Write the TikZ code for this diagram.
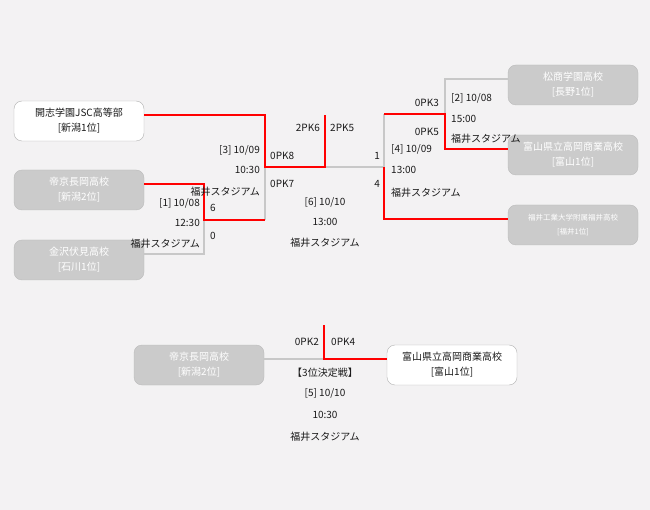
\documentclass[tikz,border=0pt]{standalone}
\usepackage{fontspec}
\setmainfont{Noto Sans CJK JP}
\usetikzlibrary{positioning}
\definecolor{bg}{HTML}{F3F2F3}
\definecolor{boxgray}{HTML}{CBCBCB}
\definecolor{linegray}{HTML}{C8C8C8}
\definecolor{win}{HTML}{FF0000}
\definecolor{ink}{HTML}{1A1A1A}

\begin{document}
\begin{tikzpicture}[x=1pt,y=-1pt,node distance=70pt,on grid,
    team/.style={rectangle,rounded corners=8pt,minimum width=130pt,minimum height=40pt,
      fill=boxgray,draw=boxgray!92!black,text=white,align=center,
      font=\fontsize{10}{15}\selectfont},
    seed/.style={team,fill=white,draw=black!30,text=ink},
    lbl/.style={inner sep=0pt,text=ink,font=\fontsize{10}{12}\selectfont},
    lose/.style={draw=linegray,line width=1.6pt},
    won/.style={draw=win,line width=1.6pt}]
  \fill[bg] (0,0) rectangle (650,510);

  % left side
  \node[seed] (kaishi) at (79,121) {開志学園JSC高等部\\{}[新潟1位]};
  \node[team] (teikyo) [below=69pt of kaishi] {帝京長岡高校\\{}[新潟2位]};
  \node[team] (kanazawa) [below=of teikyo] {金沢伏見高校\\{}[石川1位]};
  % right side
  \node[team] (matsusho) at (573,85) {松商学園高校\\{}[長野1位]};
  \node[team] (toyama) [below=of matsusho] {富山県立高岡商業高校\\{}[富山1位]};
  \node[team,font=\fontsize{7.5}{14}\selectfont] (fukui) [below=of toyama] {福井工業大学附属福井高校\\{}[福井1位]};
  % 3rd place
  \node[team] (teikyo3) at (199,365) {帝京長岡高校\\{}[新潟2位]};
  \node[seed] (toyama3) [right=253pt of teikyo3] {富山県立高岡商業高校\\{}[富山1位]};

  \coordinate (m1) at (204,220);
  \coordinate (m3) at (265,167);
  \coordinate (m6) at (325,167);
  \coordinate (champ) at (325,115);
  \coordinate (m4) at (384,167);
  \coordinate (m2) at (445,114);
  \coordinate (m5) at (324,359);
  \coordinate (m5top) at (324,325);

  % losers
  \draw[lose] ([yshift=6pt]kanazawa.east) -| (m1);
  \draw[lose] (m1 -| m3) -- (m3);
  \draw[lose] (m4) -- (m6);
  \draw[lose] (m2 -| m4) -- (m4);
  \draw[lose] ([yshift=6pt]matsusho.west) -| (m2);
  \draw[lose] ([yshift=6pt]teikyo3.east) -- (m5);
  % winners
  \draw[won] ([yshift=6pt]teikyo.east) -| (m1) -- (m1 -| m3);
  \draw[won] ([yshift=6pt]kaishi.east) -| (m3) -- (m6) -- (champ);
  \draw[won] ([yshift=6pt]fukui.west) -| (m4);
  \draw[won] ([yshift=6pt]toyama.west) -| (m2) -- (m2 -| m4);
  \draw[won] ([yshift=6pt]toyama3.west) -- (m5) -- (m5top);

  % match [1]
  \node[lbl,anchor=east] (d1) at (200,203) {[1] 10/08};
  \node[lbl,anchor=east] (t1) at (200,223) {12:30};
  \node[lbl,anchor=east] (s1) at (200,244) {福井スタジアム};
  \node[lbl,anchor=west] (a1) at (210,208) {6};
  \node[lbl,anchor=west] (b1) at (210,236) {0};
  % match [3]
  \node[lbl,anchor=east] (d3) at (260,150) {[3] 10/09};
  \node[lbl,anchor=east] (t3) at (260,170) {10:30};
  \node[lbl,anchor=east] (s3) at (260,192) {福井スタジアム};
  \node[lbl,anchor=west] (a3) at (270,156) {0PK8};
  \node[lbl,anchor=west] (b3) at (270,184) {0PK7};
  % final [6]
  \node[lbl,anchor=east] (a6) at (320,128) {2PK6};
  \node[lbl,anchor=west] (b6) at (330,128) {2PK5};
  \node[lbl] (d6) at (325,202) {[6] 10/10};
  \node[lbl] (t6) at (325,222) {13:00};
  \node[lbl] (s6) at (325,243) {福井スタジアム};
  % match [4]
  \node[lbl,anchor=east] (a4) at (380,156) {1};
  \node[lbl,anchor=east] (b4) at (380,184) {4};
  \node[lbl,anchor=west] (d4) at (391,149) {[4] 10/09};
  \node[lbl,anchor=west] (t4) at (391,170) {13:00};
  \node[lbl,anchor=west] (s4) at (391,193) {福井スタジアム};
  % match [2]
  \node[lbl,anchor=east] (a2) at (439,103) {0PK3};
  \node[lbl,anchor=east] (b2) at (439,132) {0PK5};
  \node[lbl,anchor=west] (d2) at (451,98) {[2] 10/08};
  \node[lbl,anchor=west] (t2) at (451,119) {15:00};
  \node[lbl,anchor=west] (s2) at (451,139) {福井スタジアム};
  % 3rd place [5]
  \node[lbl,anchor=east] (a5) at (319,342) {0PK2};
  \node[lbl,anchor=west] (b5) at (331,342) {0PK4};
  \node[lbl] (h5) at (325,373) {【3位決定戦】};
  \node[lbl] (d5) at (325,393) {[5] 10/10};
  \node[lbl] (t5) at (325,415) {10:30};
  \node[lbl] (s5) at (325,437) {福井スタジアム};
\end{tikzpicture}
\end{document}
